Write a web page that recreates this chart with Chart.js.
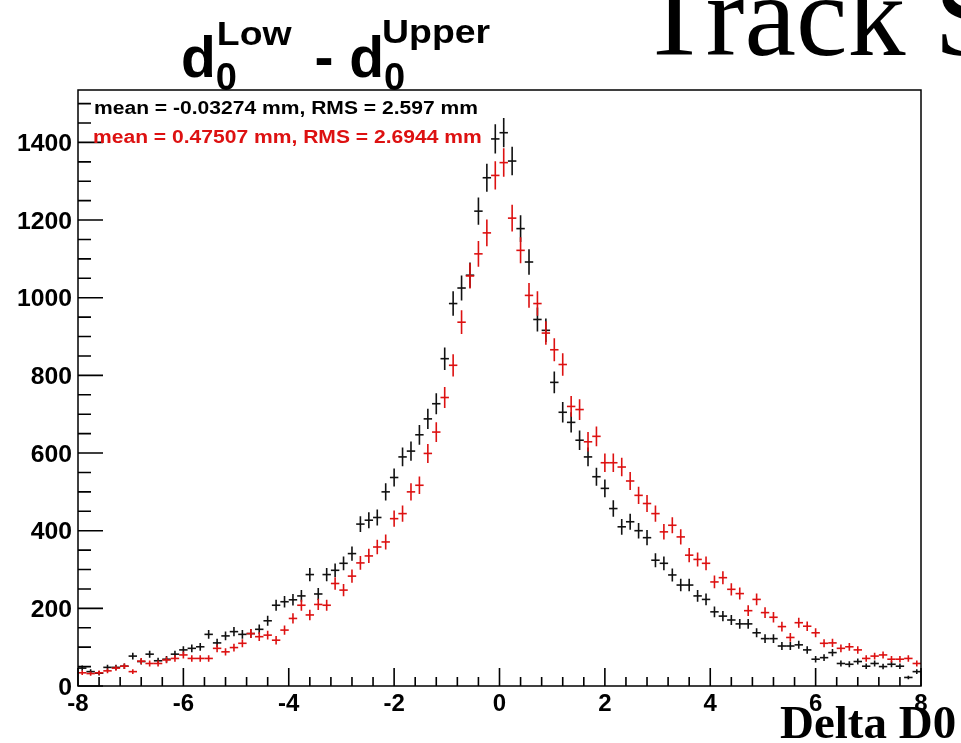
<!DOCTYPE html>
<html>
<head>
<meta charset="utf-8">
<title>d0 Low - d0 Upper</title>
<script src="https://cdn.jsdelivr.net/npm/chart.js@4.4.1/dist/chart.umd.min.js"></script>
<style>
  body { margin: 0; background: #fff; }
  #wrap { width: 961px; height: 743px; }
</style>
</head>
<body>
<div id="wrap"><canvas id="c" width="961" height="743"></canvas></div>
<script>
// histogram: 100 bins from -8 to 8
const binLow = -8;
const binWidth = 0.16;

// black histogram (mean = -0.03274 mm)
const lowerMinusUpper = [
  46, 37, 33, 48, 48, 51, 77, 63, 82, 65,
  69, 82, 93, 97, 101, 133, 111, 129, 140, 133,
  135, 146, 168, 208, 217, 222, 232, 287, 237, 287,
  298, 316, 341, 417, 427, 434, 500, 537, 590, 605,
  647, 688, 727, 843, 985, 1025, 1058, 1223, 1309, 1409,
  1425, 1352, 1178, 1092, 944, 916, 782, 705, 679, 633,
  590, 539, 509, 457, 410, 423, 400, 382, 324, 316,
  286, 260, 260, 232, 223, 191, 180, 170, 160, 160,
  137, 122, 122, 103, 103, 106, 93, 69, 73, 86,
  58, 56, 63, 51, 58, 50, 56, 51, 22, 37
];

// red histogram (mean = 0.47507 mm)
const lowerMinusUpperRed = [
  34, 32, 34, 39, 46, 51, 37, 64, 58, 58,
  67, 71, 80, 71, 71, 71, 97, 88, 99, 110,
  135, 127, 131, 118, 144, 174, 208, 183, 210, 208,
  264, 247, 283, 317, 335, 358, 371, 431, 444, 500,
  517, 599, 654, 743, 826, 937, 1056, 1113, 1167, 1315,
  1348, 1205, 1122, 1006, 985, 909, 866, 828, 720, 712,
  629, 643, 575, 575, 564, 528, 491, 470, 444, 397,
  414, 384, 337, 326, 316, 268, 279, 249, 238, 194,
  223, 189, 177, 153, 125, 163, 154, 137, 110, 111,
  97, 101, 93, 71, 77, 80, 69, 69, 71, 58
];

const xTickLabels = [-8, -6, -4, -2, 0, 2, 4, 6, 8];
const xMinorStep = 0.4;
const yTickLabels = [0, 200, 400, 600, 800, 1000, 1200, 1400];
const yMinorStep = 50;
const yMax = 1535;

const statsTexts = ['mean = -0.03274 mm, RMS = 2.597 mm', 'mean = 0.47507 mm, RMS = 2.6944 mm'];
const xTitle = 'Delta D0';
const pageTitle = 'Track S';

const BLACK = '#111111';
const RED = '#dd1111';

function toPoints(arr) {
  return arr.map((v, i) => ({ x: binLow + binWidth * (i + 0.5), y: v }));
}

function halfBin(ctx) {
  const s = ctx.chart.scales.x;
  return (s.getPixelForValue(binWidth) - s.getPixelForValue(0)) / 2;
}

// stretched text, ROOT pictures here are a bit wider than the font
function stretchText(ctx, str, x, y, font, color, sx, align) {
  ctx.save();
  ctx.font = font;
  ctx.fillStyle = color;
  ctx.textAlign = 'left';
  ctx.textBaseline = 'alphabetic';
  const w = ctx.measureText(str).width * sx;
  let left = x;
  if (align === 'right') left = x - w;
  if (align === 'center') left = x - w / 2;
  ctx.translate(left, y);
  ctx.scale(sx, 1);
  ctx.fillText(str, 0, 0);
  ctx.restore();
  return w;
}

const errorBars = {
  id: 'errorBars',
  afterDatasetDraw(chart, args) {
    const ctx = chart.ctx;
    const ds = chart.data.datasets[args.index];
    const ys = chart.scales.y;
    ctx.save();
    ctx.strokeStyle = ds.borderColor;
    ctx.lineWidth = 1.6;
    ctx.beginPath();
    args.meta.data.forEach((pt, i) => {
      const v = ds.data[i].y;
      const e = Math.sqrt(v);
      ctx.moveTo(pt.x, ys.getPixelForValue(v + e));
      ctx.lineTo(pt.x, ys.getPixelForValue(Math.max(0, v - e)));
    });
    ctx.stroke();
    ctx.restore();
  }
};

const rootFrame = {
  id: 'rootFrame',
  afterDraw(chart) {
    const ctx = chart.ctx;
    const a = chart.chartArea;
    const xs = chart.scales.x;
    const ys = chart.scales.y;
    ctx.save();
    ctx.strokeStyle = '#000';
    ctx.lineWidth = 1.5;
    ctx.strokeRect(a.left, a.top, a.right - a.left, a.bottom - a.top);

    // x ticks, inside the frame
    ctx.beginPath();
    for (let v = xTickLabels[0]; v <= xTickLabels[xTickLabels.length - 1] + 1e-6; v += xMinorStep) {
      const px = xs.getPixelForValue(v);
      const major = xTickLabels.some(t => Math.abs(t - v) < 1e-6);
      ctx.moveTo(px, a.bottom);
      ctx.lineTo(px, a.bottom - (major ? 18 : 9));
    }
    // y ticks
    for (let v = 0; v <= yMax; v += yMinorStep) {
      const py = ys.getPixelForValue(v);
      const major = yTickLabels.includes(v);
      ctx.moveTo(a.left, py);
      ctx.lineTo(a.left + (major ? 25 : 13), py);
    }
    ctx.lineWidth = 1.6;
    ctx.stroke();
    ctx.restore();

    const lblFont = 'bold 24px "Liberation Sans", Arial, sans-serif';
    xTickLabels.forEach(t => {
      stretchText(ctx, String(t), xs.getPixelForValue(t), 711, lblFont, '#000', 1.0, 'center');
    });
    yTickLabels.forEach(t => {
      stretchText(ctx, String(t), 72, ys.getPixelForValue(t) + 8.5, lblFont, '#000', 1.03, 'right');
    });

    // stats lines
    const sFont = 'bold 18px "Liberation Sans", Arial, sans-serif';
    stretchText(ctx, statsTexts[0], 94, 114, sFont, '#000', 1.17, 'left');
    stretchText(ctx, statsTexts[1], 93, 142.5, sFont, RED, 1.17, 'left');

    // title d0^Low - d0^Upper
    const big = 'bold 57px "Liberation Sans", Arial, sans-serif';
    const sup = 'bold 34px "Liberation Sans", Arial, sans-serif';
    const sub = 'bold 38px "Liberation Sans", Arial, sans-serif';
    let x = 181;
    const base = 77;
    let w = stretchText(ctx, 'd', x, base, big, '#000', 1.0, 'left');
    stretchText(ctx, '0', x + w, base + 13, sub, '#000', 1.0, 'left');
    w += stretchText(ctx, 'Low', x + w + 1, 45, sup, '#000', 1.1, 'left');
    x += w + 8;
    x += stretchText(ctx, ' - ', x, base, big, '#000', 1.0, 'left');
    w = stretchText(ctx, 'd', x, base, big, '#000', 1.0, 'left');
    stretchText(ctx, '0', x + w, base + 13, sub, '#000', 1.0, 'left');
    stretchText(ctx, 'Upper', x + w - 2, 43, sup, '#000', 1.1, 'left');

    // canvas title (cut by the edge) and axis title
    stretchText(ctx, pageTitle, 639, 55, '116px "Liberation Serif", "Times New Roman", serif', '#000', 1.0, 'left');
    stretchText(ctx, xTitle, 780, 738, 'bold 47px "Liberation Serif", "Times New Roman", serif', '#000', 1.0, 'left');
  }
};

new Chart(document.getElementById('c'), {
  type: 'scatter',
  data: {
    datasets: [
      {
        label: 'red',
        data: toPoints(lowerMinusUpperRed),
        borderColor: RED,
        backgroundColor: RED,
        order: 0
      },
      {
        label: 'black',
        data: toPoints(lowerMinusUpper),
        borderColor: BLACK,
        backgroundColor: BLACK,
        order: 1
      }
    ]
  },
  options: {
    responsive: false,
    animation: false,
    layout: { padding: { left: 78, top: 90, right: 40, bottom: 57 } },
    elements: {
      point: {
        pointStyle: 'line',
        radius: halfBin,
        hoverRadius: halfBin,
        borderWidth: 1.6
      }
    },
    scales: {
      x: { type: 'linear', min: -8, max: 8, display: false },
      y: { type: 'linear', min: 0, max: yMax, display: false }
    },
    plugins: {
      legend: { display: false },
      tooltip: { enabled: false }
    }
  },
  plugins: [errorBars, rootFrame]
});
</script>
</body>
</html>
